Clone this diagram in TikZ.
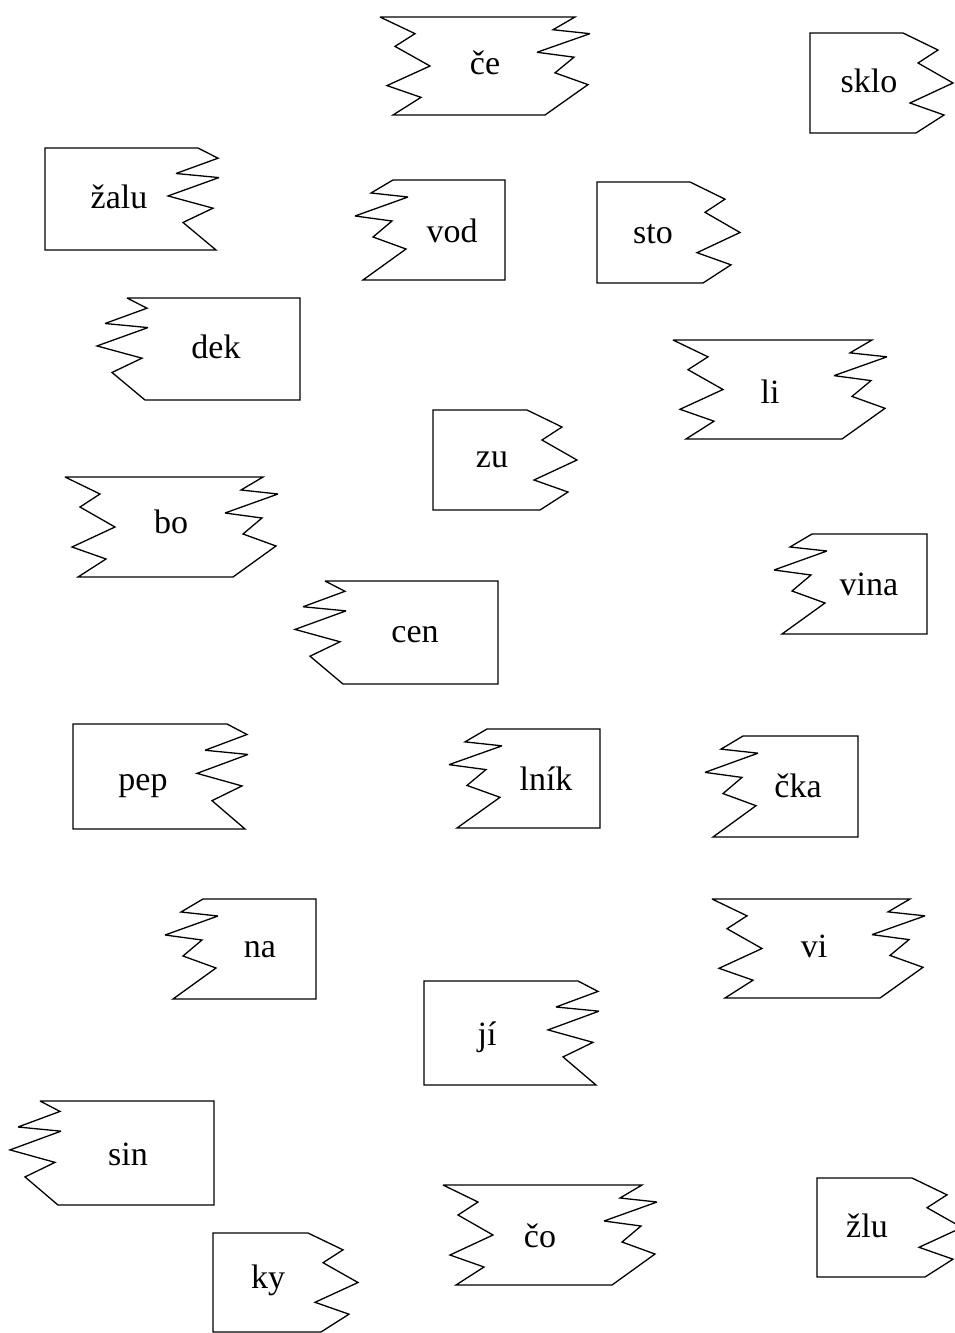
\documentclass[tikz,border=0pt]{standalone}
\usepackage{fontspec}
\setmainfont{Liberation Serif}
% edge patterns: dn = going down from top point, up = going up to (but not including) top point
\newcommand\dnS[3]{-- ({#1},{#2+#3})}
\newcommand\upS[3]{}
\newcommand\dnA[3]{-- ({#1+35},{#2+0.17*#3}) -- ({#1+15},{#2+0.30*#3}) -- ({#1+50},{#2+0.50*#3}) -- ({#1+7},{#2+0.70*#3}) -- ({#1+41},{#2+0.82*#3}) -- ({#1+13},{#2+#3})}
\newcommand\upA[3]{-- ({#1+41},{#2+0.82*#3}) -- ({#1+7},{#2+0.70*#3}) -- ({#1+50},{#2+0.50*#3}) -- ({#1+15},{#2+0.30*#3}) -- ({#1+35},{#2+0.17*#3})}
\newcommand\dnB[3]{-- ({#1-22},{#2+0.13*#3}) -- ({#1+15},{#2+0.17*#3}) -- ({#1-38},{#2+0.36*#3}) -- ({#1-1},{#2+0.41*#3}) -- ({#1-20},{#2+0.57*#3}) -- ({#1+13},{#2+0.69*#3}) -- ({#1-30},{#2+#3})}
\newcommand\upB[3]{-- ({#1+13},{#2+0.69*#3}) -- ({#1-20},{#2+0.57*#3}) -- ({#1-1},{#2+0.41*#3}) -- ({#1-38},{#2+0.36*#3}) -- ({#1+15},{#2+0.17*#3}) -- ({#1-22},{#2+0.13*#3})}
\newcommand\dnD[3]{-- ({#1+20},{#2+0.10*#3}) -- ({#1-22},{#2+0.25*#3}) -- ({#1+21},{#2+0.29*#3}) -- ({#1-30},{#2+0.47*#3}) -- ({#1+15},{#2+0.59*#3}) -- ({#1-15},{#2+0.73*#3}) -- ({#1+18},{#2+#3})}
\newcommand\upD[3]{-- ({#1-15},{#2+0.73*#3}) -- ({#1+15},{#2+0.59*#3}) -- ({#1-30},{#2+0.47*#3}) -- ({#1+21},{#2+0.29*#3}) -- ({#1-22},{#2+0.25*#3}) -- ({#1+20},{#2+0.10*#3})}
\def\offS{0}\def\offA{13}\def\offB{-30}\def\offD{18}
% \tile{xL}{yT}{xR}{yB}{left type}{right type}
\newcommand\tile[6]{%
  \pgfmathsetmacro\tileH{#4-#2}%
  \expandafter\let\expandafter\tileDn\csname dn#6\endcsname
  \expandafter\let\expandafter\tileUp\csname up#5\endcsname
  \edef\tileOff{\csname off#5\endcsname}%
  \draw[tileline] (#1,#2) -- (#3,#2) \tileDn{#3}{#2}{\tileH} -- ({#1+\tileOff},#4) \tileUp{#1}{#2}{\tileH} -- cycle;
}
\begin{document}
\begin{tikzpicture}[x=1pt,y=-1pt,
  tileline/.style={line width=1.3pt, line join=miter, miter limit=4, fill=white},
  lbl/.style={font=\fontsize{34}{40}\selectfont, anchor=base, inner sep=0pt}]
\useasboundingbox (0,0) rectangle (955,1333);
\fill[white] (0,0) rectangle (955,1333);

\tile{380}{17}{575}{115}{A}{B}   \node[lbl] (ce)   at (485,74)   {če};
\tile{810}{33}{903}{133}{S}{A}   \node[lbl] (sklo) at (869,92)   {sklo};
\tile{45}{148}{198}{250}{S}{D}   \node[lbl] (zalu) at (119,208)  {žalu};
\tile{393}{180}{505}{280}{B}{S}  \node[lbl] (vod)  at (452,242)  {vod};
\tile{597}{182}{690}{283}{S}{A}  \node[lbl] (sto)  at (653,243)  {sto};
\tile{127}{298}{300}{400}{D}{S}  \node[lbl] (dek)  at (216,358)  {dek};
\tile{673}{340}{872}{439}{A}{B}  \node[lbl] (li)   at (770,403)  {li};
\tile{433}{410}{527}{510}{S}{A}  \node[lbl] (zu)   at (492,467)  {zu};
\tile{65}{477}{263}{577}{A}{B}   \node[lbl] (bo)   at (171,533)  {bo};
\tile{812}{534}{927}{634}{B}{S}  \node[lbl] (vina) at (869,595)  {vina};
\tile{325}{581}{498}{684}{D}{S}  \node[lbl] (cen)  at (415,642)  {cen};
\tile{73}{724}{227}{829}{S}{D}   \node[lbl] (pep)  at (143,790)  {pep};
\tile{487}{729}{600}{828}{B}{S}  \node[lbl] (lnik) at (546,790)  {lník};
\tile{743}{736}{858}{837}{B}{S}  \node[lbl] (cka)  at (798,797)  {čka};
\tile{712}{899}{910}{998}{A}{B}  \node[lbl] (vi)   at (814,957)  {vi};
\tile{203}{899}{316}{999}{B}{S}  \node[lbl] (na)   at (260,957)  {na};
\tile{424}{981}{578}{1085}{S}{D} \node[lbl] (ji)   at (487,1045) {jí};
\tile{40}{1101}{214}{1205}{D}{S} \node[lbl] (sin)  at (128,1165) {sin};
\tile{213}{1233}{308}{1332}{S}{A} \node[lbl] (ky)  at (268,1288) {ky};
\tile{443}{1185}{642}{1285}{A}{B} \node[lbl] (co)  at (540,1247) {čo};
\tile{817}{1178}{912}{1277}{S}{A} \node[lbl] (zlu) at (867,1237) {žlu};
\end{tikzpicture}
\end{document}
